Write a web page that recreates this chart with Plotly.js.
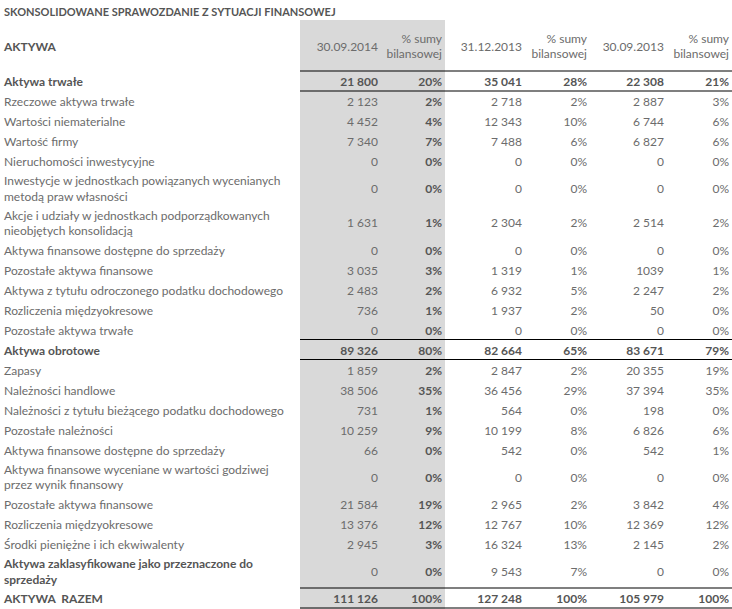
<!DOCTYPE html>
<html><head><meta charset="utf-8">
<script src="https://cdn.plot.ly/plotly-3.0.1.min.js"></script>
<style>html,body{margin:0;padding:0;background:#fff}</style>
</head><body><div id="chart" style="width:732px;height:609px"></div>
<script>
// ---------- DATA ----------
const titleText = 'SKONSOLIDOWANE SPRAWOZDANIE Z SYTUACJI FINANSOWEJ';
const headers = ['AKTYWA', '30.09.2014', '% sumy<br>bilansowej', '31.12.2013', '% sumy<br>bilansowej', '30.09.2013', '% sumy<br>bilansowej'];
const labels = [
  'Aktywa trwałe',
  'Rzeczowe aktywa trwałe',
  'Wartości niematerialne',
  'Wartość firmy',
  'Nieruchomości inwestycyjne',
  'Inwestycje w jednostkach powiązanych wycenianych<br>metodą praw własności',
  'Akcje i udziały w jednostkach podporządkowanych<br>nieobjętych konsolidacją',
  'Aktywa finansowe dostępne do sprzedaży',
  'Pozostałe aktywa finansowe',
  'Aktywa z tytułu odroczonego podatku dochodowego',
  'Rozliczenia międzyokresowe',
  'Pozostałe aktywa trwałe',
  'Aktywa obrotowe',
  'Zapasy',
  'Należności handlowe',
  'Należności z tytułu bieżącego podatku dochodowego',
  'Pozostałe należności',
  'Aktywa finansowe dostępne do sprzedaży',
  'Aktywa finansowe wyceniane w wartości godziwej<br>przez wynik finansowy',
  'Pozostałe aktywa finansowe',
  'Rozliczenia międzyokresowe',
  'Środki pieniężne i ich ekwiwalenty',
  'Aktywa zaklasyfikowane jako przeznaczone do<br>sprzedaży',
  'AKTYWA\u00a0 RAZEM'
];
// row kind: total = bold row framed by rules, head = bold label only, item = plain
const rowKind = ['total','item','item','item','item','item','item','item','item','item','item','item',
                 'total','item','item','item','item','item','item','item','item','item','head','total'];
const val_300914 = [21800, 2123, 4452, 7340, 0, 0, 1631, 0, 3035, 2483, 736, 0, 89326, 1859, 38506, 731, 10259, 66, 0, 21584, 13376, 2945, 0, 111126];
const pct_300914 = [20, 2, 4, 7, 0, 0, 1, 0, 3, 2, 1, 0, 80, 2, 35, 1, 9, 0, 0, 19, 12, 3, 0, 100];
const val_311213 = [35041, 2718, 12343, 7488, 0, 0, 2304, 0, 1319, 6932, 1937, 0, 82664, 2847, 36456, 564, 10199, 542, 0, 2965, 12767, 16324, 9543, 127248];
const pct_311213 = [28, 2, 10, 6, 0, 0, 2, 0, 1, 5, 2, 0, 65, 2, 29, 0, 8, 0, 0, 2, 10, 13, 7, 100];
const val_300913 = [22308, 2887, 6744, 6827, 0, 0, 2514, 0, 1039, 2247, 50, 0, 83671, 20355, 37394, 198, 6826, 542, 0, 3842, 12369, 2145, 0, 105979];
const pct_300913 = [21, 3, 6, 6, 0, 0, 2, 0, 1, 2, 0, 0, 79, 19, 35, 0, 6, 1, 0, 4, 12, 2, 0, 100];
// cells printed without a thousands separator in the source
const ungrouped = {val_300913: [8]};

// ---------- STYLE ----------
const FONT = 'Lato, "Open Sans", sans-serif';
const FS = 12;
const C_REG = '#6c6c6c', C_BOLD = '#555555';
const GRAY = '#d9d9d9';
const W = 732, H = 609;
const labelWidth = 300;
const colWidths = [81, 64, 80, 65, 77, 65];
const PAD_R = 3, PAD_L = 4;
const TEXT_DY = 2;
const HEADER_TOP = 20, HEADER_H = 51, ROW_H1 = 20, ROW_H2 = 34.25;

// column right edges
const colRight = [];
let acc = labelWidth;
colWidths.forEach(w => { acc += w; colRight.push(acc); });
const colLeft = colRight.map((r, i) => r - colWidths[i]);

// row geometry derived from number of text lines
const rowTop = [], rowBot = [], rowMid = [];
let yy = HEADER_TOP + HEADER_H;
labels.forEach(l => {
  const h = l.includes('<br>') ? ROW_H2 : ROW_H1;
  rowTop.push(yy); rowBot.push(yy + h); rowMid.push(yy + h / 2);
  yy += h;
});
const textY = rowMid.map(v => v + TEXT_DY);

function fmtNum(v, grouped) {
  const s = String(Math.round(v));
  return grouped ? s.replace(/\B(?=(\d{3})+(?!\d))/g, ' ') : s;
}
const b = (s, on) => on ? '<b>' + s + '</b>' : s;

const columns = [
  {name: 'val_300914', data: val_300914, pct: false, alwaysBold: false},
  {name: 'pct_300914', data: pct_300914, pct: true, alwaysBold: true},
  {name: 'val_311213', data: val_311213, pct: false, alwaysBold: false},
  {name: 'pct_311213', data: pct_311213, pct: true, alwaysBold: false},
  {name: 'val_300913', data: val_300913, pct: false, alwaysBold: false},
  {name: 'pct_300913', data: pct_300913, pct: true, alwaysBold: false}
];

const traces = [];
// labels
traces.push({
  type: 'scatter', mode: 'text', hoverinfo: 'skip', showlegend: false, cliponaxis: false,
  x: labels.map(() => PAD_L), y: textY,
  text: labels.map((l, i) => b(l, rowKind[i] !== 'item')),
  textposition: 'middle right', marker: {size: 0},
  textfont: {family: FONT, size: FS, color: labels.map((l, i) => rowKind[i] !== 'item' ? C_BOLD : C_REG)}
});
// value columns
columns.forEach((c, ci) => {
  const skip = ungrouped[c.name] || [];
  traces.push({
    type: 'scatter', mode: 'text', hoverinfo: 'skip', showlegend: false, cliponaxis: false,
    x: c.data.map(() => colRight[ci] - PAD_R), y: textY,
    text: c.data.map((v, i) => {
      const s = c.pct ? fmtNum(v, false) + '%' : fmtNum(v, !skip.includes(i));
      return b(s, c.alwaysBold || rowKind[i] === 'total');
    }),
    textposition: 'middle left', marker: {size: 0},
    textfont: {family: FONT, size: FS, color: c.data.map((v, i) => (c.alwaysBold || rowKind[i] === 'total') ? C_BOLD : C_REG)}
  });
});
// header
const headY = HEADER_TOP + HEADER_H / 2 + TEXT_DY;
traces.push({
  type: 'scatter', mode: 'text', hoverinfo: 'skip', showlegend: false, cliponaxis: false,
  x: [PAD_L], y: [headY], text: [b(headers[0], true)],
  textposition: 'middle right', marker: {size: 0},
  textfont: {family: FONT, size: FS, color: C_BOLD}
});
traces.push({
  type: 'scatter', mode: 'text', hoverinfo: 'skip', showlegend: false, cliponaxis: false,
  x: colRight.map(r => r - PAD_R), y: colRight.map(() => headY),
  text: headers.slice(1), textposition: 'middle left', marker: {size: 0},
  textfont: {family: FONT, size: FS, color: C_REG}
});

// shapes: shaded current-period columns and rules around totals
const shapes = [{
  type: 'rect', xref: 'x', yref: 'y', layer: 'below',
  x0: colLeft[0], x1: colRight[1], y0: HEADER_TOP, y1: H,
  fillcolor: GRAY, line: {width: 0}
}];
rowKind.forEach((k, i) => {
  if (k !== 'total') return;
  [rowTop[i], rowBot[i]].forEach(yv => shapes.push({
    type: 'line', xref: 'x', yref: 'y', layer: 'above',
    x0: colLeft[0], x1: colRight[colRight.length - 1], y0: yv, y1: yv,
    line: {color: '#000', width: 1.2}
  }));
});

const layout = {
  width: W, height: H,
  margin: {l: 0, r: 0, t: 0, b: 0},
  paper_bgcolor: '#fff', plot_bgcolor: '#fff',
  title: {text: '<b>' + titleText + '</b>', x: PAD_L / W, xanchor: 'left', xref: 'paper',
          y: 1 - 12 / H, yanchor: 'middle', yref: 'paper',
          font: {family: FONT, size: 11, color: C_BOLD}},
  xaxis: {range: [0, W], visible: false, fixedrange: true},
  yaxis: {range: [H, 0], visible: false, fixedrange: true},
  shapes: shapes,
  showlegend: false
};
Plotly.newPlot('chart', traces, layout, {displayModeBar: false, staticPlot: true});
</script></body></html>
